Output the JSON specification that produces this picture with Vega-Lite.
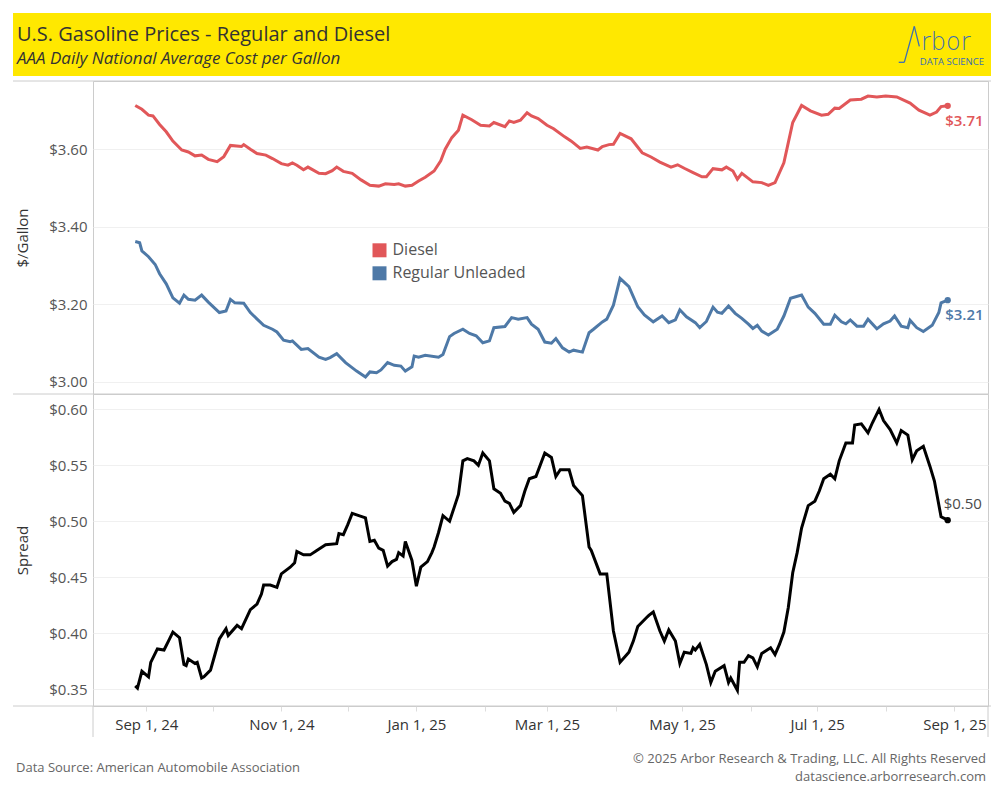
{
  "$schema": "https://vega.github.io/schema/vega-lite/v6.json",
  "background": "white",
  "padding": {"left": 12, "top": 12, "right": 10, "bottom": 10},
  "config": {
    "font": "Open Sans",
    "view": {"stroke": "#cccccc", "strokeWidth": 1},
    "axis": {"labelFont": "Open Sans", "titleFont": "Open Sans", "labelColor": "#555555", "titleColor": "#333333", "labelFontSize": 15, "titleFontSize": 15, "titleFontWeight": "normal", "domain": false, "gridColor": "#f0f0f0", "tickColor": "#dddddd"},
    "axisY": {"ticks": false, "labelPadding": 6, "titlePadding": 18}
  },
  "datasets": {
    "prices": [
      {"date":"2024-08-27","fuel":"Diesel","price":3.713},{"date":"2024-08-30","fuel":"Diesel","price":3.703},{"date":"2024-09-02","fuel":"Diesel","price":3.688},{"date":"2024-09-04","fuel":"Diesel","price":3.686},{"date":"2024-09-07","fuel":"Diesel","price":3.664},{"date":"2024-09-10","fuel":"Diesel","price":3.645},{"date":"2024-09-13","fuel":"Diesel","price":3.621},{"date":"2024-09-17","fuel":"Diesel","price":3.598},{"date":"2024-09-20","fuel":"Diesel","price":3.593},{"date":"2024-09-23","fuel":"Diesel","price":3.583},{"date":"2024-09-26","fuel":"Diesel","price":3.585},{"date":"2024-09-29","fuel":"Diesel","price":3.574},{"date":"2024-10-03","fuel":"Diesel","price":3.568},{"date":"2024-10-06","fuel":"Diesel","price":3.581},{"date":"2024-10-09","fuel":"Diesel","price":3.610},{"date":"2024-10-14","fuel":"Diesel","price":3.607},{"date":"2024-10-15","fuel":"Diesel","price":3.612},{"date":"2024-10-18","fuel":"Diesel","price":3.600},{"date":"2024-10-21","fuel":"Diesel","price":3.589},{"date":"2024-10-25","fuel":"Diesel","price":3.585},{"date":"2024-10-28","fuel":"Diesel","price":3.576},{"date":"2024-11-01","fuel":"Diesel","price":3.563},{"date":"2024-11-04","fuel":"Diesel","price":3.559},{"date":"2024-11-06","fuel":"Diesel","price":3.565},{"date":"2024-11-08","fuel":"Diesel","price":3.559},{"date":"2024-11-11","fuel":"Diesel","price":3.547},{"date":"2024-11-13","fuel":"Diesel","price":3.554},{"date":"2024-11-18","fuel":"Diesel","price":3.538},{"date":"2024-11-21","fuel":"Diesel","price":3.537},{"date":"2024-11-24","fuel":"Diesel","price":3.545},{"date":"2024-11-26","fuel":"Diesel","price":3.554},{"date":"2024-11-29","fuel":"Diesel","price":3.543},{"date":"2024-12-03","fuel":"Diesel","price":3.538},{"date":"2024-12-07","fuel":"Diesel","price":3.521},{"date":"2024-12-11","fuel":"Diesel","price":3.507},{"date":"2024-12-15","fuel":"Diesel","price":3.505},{"date":"2024-12-18","fuel":"Diesel","price":3.511},{"date":"2024-12-22","fuel":"Diesel","price":3.509},{"date":"2024-12-24","fuel":"Diesel","price":3.511},{"date":"2024-12-27","fuel":"Diesel","price":3.505},{"date":"2024-12-30","fuel":"Diesel","price":3.507},{"date":"2025-01-02","fuel":"Diesel","price":3.518},{"date":"2025-01-05","fuel":"Diesel","price":3.528},{"date":"2025-01-09","fuel":"Diesel","price":3.544},{"date":"2025-01-12","fuel":"Diesel","price":3.570},{"date":"2025-01-14","fuel":"Diesel","price":3.600},{"date":"2025-01-17","fuel":"Diesel","price":3.630},{"date":"2025-01-20","fuel":"Diesel","price":3.649},{"date":"2025-01-22","fuel":"Diesel","price":3.688},{"date":"2025-01-26","fuel":"Diesel","price":3.676},{"date":"2025-01-30","fuel":"Diesel","price":3.662},{"date":"2025-02-03","fuel":"Diesel","price":3.660},{"date":"2025-02-05","fuel":"Diesel","price":3.669},{"date":"2025-02-10","fuel":"Diesel","price":3.658},{"date":"2025-02-12","fuel":"Diesel","price":3.673},{"date":"2025-02-14","fuel":"Diesel","price":3.669},{"date":"2025-02-17","fuel":"Diesel","price":3.675},{"date":"2025-02-20","fuel":"Diesel","price":3.694},{"date":"2025-02-22","fuel":"Diesel","price":3.686},{"date":"2025-02-25","fuel":"Diesel","price":3.679},{"date":"2025-03-01","fuel":"Diesel","price":3.662},{"date":"2025-03-04","fuel":"Diesel","price":3.653},{"date":"2025-03-09","fuel":"Diesel","price":3.632},{"date":"2025-03-12","fuel":"Diesel","price":3.621},{"date":"2025-03-16","fuel":"Diesel","price":3.602},{"date":"2025-03-19","fuel":"Diesel","price":3.606},{"date":"2025-03-24","fuel":"Diesel","price":3.598},{"date":"2025-03-26","fuel":"Diesel","price":3.607},{"date":"2025-03-29","fuel":"Diesel","price":3.612},{"date":"2025-03-31","fuel":"Diesel","price":3.613},{"date":"2025-04-03","fuel":"Diesel","price":3.641},{"date":"2025-04-08","fuel":"Diesel","price":3.627},{"date":"2025-04-13","fuel":"Diesel","price":3.591},{"date":"2025-04-17","fuel":"Diesel","price":3.580},{"date":"2025-04-21","fuel":"Diesel","price":3.567},{"date":"2025-04-26","fuel":"Diesel","price":3.554},{"date":"2025-04-29","fuel":"Diesel","price":3.560},{"date":"2025-05-02","fuel":"Diesel","price":3.551},{"date":"2025-05-06","fuel":"Diesel","price":3.540},{"date":"2025-05-10","fuel":"Diesel","price":3.529},{"date":"2025-05-12","fuel":"Diesel","price":3.529},{"date":"2025-05-15","fuel":"Diesel","price":3.550},{"date":"2025-05-19","fuel":"Diesel","price":3.547},{"date":"2025-05-21","fuel":"Diesel","price":3.554},{"date":"2025-05-24","fuel":"Diesel","price":3.544},{"date":"2025-05-26","fuel":"Diesel","price":3.523},{"date":"2025-05-28","fuel":"Diesel","price":3.538},{"date":"2025-06-02","fuel":"Diesel","price":3.516},{"date":"2025-06-06","fuel":"Diesel","price":3.514},{"date":"2025-06-09","fuel":"Diesel","price":3.507},{"date":"2025-06-12","fuel":"Diesel","price":3.514},{"date":"2025-06-16","fuel":"Diesel","price":3.565},{"date":"2025-06-18","fuel":"Diesel","price":3.617},{"date":"2025-06-20","fuel":"Diesel","price":3.669},{"date":"2025-06-24","fuel":"Diesel","price":3.713},{"date":"2025-06-28","fuel":"Diesel","price":3.699},{"date":"2025-07-03","fuel":"Diesel","price":3.688},{"date":"2025-07-06","fuel":"Diesel","price":3.690},{"date":"2025-07-09","fuel":"Diesel","price":3.706},{"date":"2025-07-11","fuel":"Diesel","price":3.705},{"date":"2025-07-16","fuel":"Diesel","price":3.727},{"date":"2025-07-21","fuel":"Diesel","price":3.729},{"date":"2025-07-24","fuel":"Diesel","price":3.737},{"date":"2025-07-28","fuel":"Diesel","price":3.735},{"date":"2025-08-01","fuel":"Diesel","price":3.737},{"date":"2025-08-06","fuel":"Diesel","price":3.735},{"date":"2025-08-12","fuel":"Diesel","price":3.719},{"date":"2025-08-16","fuel":"Diesel","price":3.701},{"date":"2025-08-21","fuel":"Diesel","price":3.688},{"date":"2025-08-24","fuel":"Diesel","price":3.696},{"date":"2025-08-26","fuel":"Diesel","price":3.710},{"date":"2025-08-29","fuel":"Diesel","price":3.712},
      {"date":"2024-08-27","fuel":"Regular Unleaded","price":3.362},{"date":"2024-08-29","fuel":"Regular Unleaded","price":3.359},{"date":"2024-08-30","fuel":"Regular Unleaded","price":3.338},{"date":"2024-09-02","fuel":"Regular Unleaded","price":3.323},{"date":"2024-09-05","fuel":"Regular Unleaded","price":3.303},{"date":"2024-09-07","fuel":"Regular Unleaded","price":3.279},{"date":"2024-09-10","fuel":"Regular Unleaded","price":3.253},{"date":"2024-09-13","fuel":"Regular Unleaded","price":3.217},{"date":"2024-09-16","fuel":"Regular Unleaded","price":3.203},{"date":"2024-09-18","fuel":"Regular Unleaded","price":3.224},{"date":"2024-09-20","fuel":"Regular Unleaded","price":3.213},{"date":"2024-09-23","fuel":"Regular Unleaded","price":3.211},{"date":"2024-09-26","fuel":"Regular Unleaded","price":3.224},{"date":"2024-09-29","fuel":"Regular Unleaded","price":3.206},{"date":"2024-10-04","fuel":"Regular Unleaded","price":3.179},{"date":"2024-10-07","fuel":"Regular Unleaded","price":3.183},{"date":"2024-10-09","fuel":"Regular Unleaded","price":3.213},{"date":"2024-10-11","fuel":"Regular Unleaded","price":3.204},{"date":"2024-10-15","fuel":"Regular Unleaded","price":3.203},{"date":"2024-10-18","fuel":"Regular Unleaded","price":3.179},{"date":"2024-10-24","fuel":"Regular Unleaded","price":3.146},{"date":"2024-10-28","fuel":"Regular Unleaded","price":3.136},{"date":"2024-10-30","fuel":"Regular Unleaded","price":3.129},{"date":"2024-11-02","fuel":"Regular Unleaded","price":3.108},{"date":"2024-11-05","fuel":"Regular Unleaded","price":3.104},{"date":"2024-11-06","fuel":"Regular Unleaded","price":3.106},{"date":"2024-11-10","fuel":"Regular Unleaded","price":3.084},{"date":"2024-11-13","fuel":"Regular Unleaded","price":3.086},{"date":"2024-11-18","fuel":"Regular Unleaded","price":3.064},{"date":"2024-11-21","fuel":"Regular Unleaded","price":3.058},{"date":"2024-11-23","fuel":"Regular Unleaded","price":3.063},{"date":"2024-11-26","fuel":"Regular Unleaded","price":3.073},{"date":"2024-11-30","fuel":"Regular Unleaded","price":3.050},{"date":"2024-12-05","fuel":"Regular Unleaded","price":3.028},{"date":"2024-12-09","fuel":"Regular Unleaded","price":3.013},{"date":"2024-12-11","fuel":"Regular Unleaded","price":3.026},{"date":"2024-12-14","fuel":"Regular Unleaded","price":3.024},{"date":"2024-12-16","fuel":"Regular Unleaded","price":3.031},{"date":"2024-12-19","fuel":"Regular Unleaded","price":3.050},{"date":"2024-12-22","fuel":"Regular Unleaded","price":3.043},{"date":"2024-12-25","fuel":"Regular Unleaded","price":3.041},{"date":"2024-12-27","fuel":"Regular Unleaded","price":3.028},{"date":"2024-12-30","fuel":"Regular Unleaded","price":3.039},{"date":"2024-12-31","fuel":"Regular Unleaded","price":3.067},{"date":"2025-01-02","fuel":"Regular Unleaded","price":3.064},{"date":"2025-01-05","fuel":"Regular Unleaded","price":3.069},{"date":"2025-01-11","fuel":"Regular Unleaded","price":3.064},{"date":"2025-01-13","fuel":"Regular Unleaded","price":3.071},{"date":"2025-01-16","fuel":"Regular Unleaded","price":3.117},{"date":"2025-01-18","fuel":"Regular Unleaded","price":3.125},{"date":"2025-01-22","fuel":"Regular Unleaded","price":3.136},{"date":"2025-01-25","fuel":"Regular Unleaded","price":3.125},{"date":"2025-01-28","fuel":"Regular Unleaded","price":3.119},{"date":"2025-01-31","fuel":"Regular Unleaded","price":3.101},{"date":"2025-02-03","fuel":"Regular Unleaded","price":3.106},{"date":"2025-02-05","fuel":"Regular Unleaded","price":3.140},{"date":"2025-02-10","fuel":"Regular Unleaded","price":3.143},{"date":"2025-02-13","fuel":"Regular Unleaded","price":3.166},{"date":"2025-02-16","fuel":"Regular Unleaded","price":3.162},{"date":"2025-02-20","fuel":"Regular Unleaded","price":3.166},{"date":"2025-02-22","fuel":"Regular Unleaded","price":3.149},{"date":"2025-02-25","fuel":"Regular Unleaded","price":3.136},{"date":"2025-02-28","fuel":"Regular Unleaded","price":3.103},{"date":"2025-03-03","fuel":"Regular Unleaded","price":3.100},{"date":"2025-03-05","fuel":"Regular Unleaded","price":3.112},{"date":"2025-03-08","fuel":"Regular Unleaded","price":3.088},{"date":"2025-03-11","fuel":"Regular Unleaded","price":3.077},{"date":"2025-03-13","fuel":"Regular Unleaded","price":3.082},{"date":"2025-03-17","fuel":"Regular Unleaded","price":3.077},{"date":"2025-03-20","fuel":"Regular Unleaded","price":3.127},{"date":"2025-03-22","fuel":"Regular Unleaded","price":3.136},{"date":"2025-03-26","fuel":"Regular Unleaded","price":3.155},{"date":"2025-03-28","fuel":"Regular Unleaded","price":3.162},{"date":"2025-03-31","fuel":"Regular Unleaded","price":3.198},{"date":"2025-04-03","fuel":"Regular Unleaded","price":3.267},{"date":"2025-04-07","fuel":"Regular Unleaded","price":3.246},{"date":"2025-04-11","fuel":"Regular Unleaded","price":3.194},{"date":"2025-04-14","fuel":"Regular Unleaded","price":3.173},{"date":"2025-04-18","fuel":"Regular Unleaded","price":3.155},{"date":"2025-04-22","fuel":"Regular Unleaded","price":3.170},{"date":"2025-04-25","fuel":"Regular Unleaded","price":3.153},{"date":"2025-04-28","fuel":"Regular Unleaded","price":3.160},{"date":"2025-04-30","fuel":"Regular Unleaded","price":3.186},{"date":"2025-05-03","fuel":"Regular Unleaded","price":3.168},{"date":"2025-05-07","fuel":"Regular Unleaded","price":3.153},{"date":"2025-05-09","fuel":"Regular Unleaded","price":3.140},{"date":"2025-05-12","fuel":"Regular Unleaded","price":3.156},{"date":"2025-05-15","fuel":"Regular Unleaded","price":3.193},{"date":"2025-05-17","fuel":"Regular Unleaded","price":3.180},{"date":"2025-05-19","fuel":"Regular Unleaded","price":3.177},{"date":"2025-05-22","fuel":"Regular Unleaded","price":3.196},{"date":"2025-05-25","fuel":"Regular Unleaded","price":3.177},{"date":"2025-05-28","fuel":"Regular Unleaded","price":3.164},{"date":"2025-05-31","fuel":"Regular Unleaded","price":3.149},{"date":"2025-06-02","fuel":"Regular Unleaded","price":3.138},{"date":"2025-06-04","fuel":"Regular Unleaded","price":3.146},{"date":"2025-06-06","fuel":"Regular Unleaded","price":3.131},{"date":"2025-06-09","fuel":"Regular Unleaded","price":3.121},{"date":"2025-06-13","fuel":"Regular Unleaded","price":3.136},{"date":"2025-06-16","fuel":"Regular Unleaded","price":3.170},{"date":"2025-06-19","fuel":"Regular Unleaded","price":3.216},{"date":"2025-06-24","fuel":"Regular Unleaded","price":3.224},{"date":"2025-06-27","fuel":"Regular Unleaded","price":3.193},{"date":"2025-06-30","fuel":"Regular Unleaded","price":3.177},{"date":"2025-07-04","fuel":"Regular Unleaded","price":3.149},{"date":"2025-07-07","fuel":"Regular Unleaded","price":3.149},{"date":"2025-07-09","fuel":"Regular Unleaded","price":3.172},{"date":"2025-07-12","fuel":"Regular Unleaded","price":3.155},{"date":"2025-07-14","fuel":"Regular Unleaded","price":3.150},{"date":"2025-07-16","fuel":"Regular Unleaded","price":3.160},{"date":"2025-07-19","fuel":"Regular Unleaded","price":3.144},{"date":"2025-07-22","fuel":"Regular Unleaded","price":3.144},{"date":"2025-07-24","fuel":"Regular Unleaded","price":3.162},{"date":"2025-07-28","fuel":"Regular Unleaded","price":3.137},{"date":"2025-07-31","fuel":"Regular Unleaded","price":3.150},{"date":"2025-08-03","fuel":"Regular Unleaded","price":3.157},{"date":"2025-08-05","fuel":"Regular Unleaded","price":3.170},{"date":"2025-08-08","fuel":"Regular Unleaded","price":3.144},{"date":"2025-08-11","fuel":"Regular Unleaded","price":3.140},{"date":"2025-08-12","fuel":"Regular Unleaded","price":3.159},{"date":"2025-08-15","fuel":"Regular Unleaded","price":3.140},{"date":"2025-08-18","fuel":"Regular Unleaded","price":3.130},{"date":"2025-08-22","fuel":"Regular Unleaded","price":3.146},{"date":"2025-08-25","fuel":"Regular Unleaded","price":3.179},{"date":"2025-08-26","fuel":"Regular Unleaded","price":3.204},{"date":"2025-08-29","fuel":"Regular Unleaded","price":3.211}
    ],
    "spread": [
      {"date":"2024-08-27","spread":0.353},{"date":"2024-08-28","spread":0.351},{"date":"2024-08-30","spread":0.366},{"date":"2024-09-02","spread":0.361},{"date":"2024-09-03","spread":0.374},{"date":"2024-09-06","spread":0.386},{"date":"2024-09-09","spread":0.385},{"date":"2024-09-11","spread":0.393},{"date":"2024-09-13","spread":0.401},{"date":"2024-09-16","spread":0.396},{"date":"2024-09-18","spread":0.372},{"date":"2024-09-19","spread":0.371},{"date":"2024-09-20","spread":0.377},{"date":"2024-09-23","spread":0.373},{"date":"2024-09-24","spread":0.374},{"date":"2024-09-26","spread":0.360},{"date":"2024-09-27","spread":0.361},{"date":"2024-09-30","spread":0.367},{"date":"2024-10-02","spread":0.381},{"date":"2024-10-04","spread":0.395},{"date":"2024-10-07","spread":0.404},{"date":"2024-10-08","spread":0.398},{"date":"2024-10-12","spread":0.407},{"date":"2024-10-14","spread":0.404},{"date":"2024-10-18","spread":0.421},{"date":"2024-10-21","spread":0.426},{"date":"2024-10-23","spread":0.435},{"date":"2024-10-24","spread":0.443},{"date":"2024-10-27","spread":0.443},{"date":"2024-10-30","spread":0.441},{"date":"2024-11-01","spread":0.453},{"date":"2024-11-05","spread":0.459},{"date":"2024-11-07","spread":0.463},{"date":"2024-11-08","spread":0.473},{"date":"2024-11-11","spread":0.470},{"date":"2024-11-14","spread":0.470},{"date":"2024-11-17","spread":0.474},{"date":"2024-11-21","spread":0.479},{"date":"2024-11-26","spread":0.480},{"date":"2024-11-27","spread":0.489},{"date":"2024-11-29","spread":0.488},{"date":"2024-12-01","spread":0.497},{"date":"2024-12-03","spread":0.507},{"date":"2024-12-06","spread":0.505},{"date":"2024-12-09","spread":0.503},{"date":"2024-12-11","spread":0.482},{"date":"2024-12-13","spread":0.483},{"date":"2024-12-15","spread":0.476},{"date":"2024-12-17","spread":0.474},{"date":"2024-12-19","spread":0.460},{"date":"2024-12-21","spread":0.464},{"date":"2024-12-23","spread":0.466},{"date":"2024-12-24","spread":0.472},{"date":"2024-12-26","spread":0.469},{"date":"2024-12-27","spread":0.482},{"date":"2024-12-30","spread":0.465},{"date":"2025-01-01","spread":0.442},{"date":"2025-01-03","spread":0.459},{"date":"2025-01-06","spread":0.464},{"date":"2025-01-08","spread":0.472},{"date":"2025-01-09","spread":0.477},{"date":"2025-01-11","spread":0.490},{"date":"2025-01-13","spread":0.505},{"date":"2025-01-16","spread":0.500},{"date":"2025-01-18","spread":0.512},{"date":"2025-01-20","spread":0.524},{"date":"2025-01-22","spread":0.554},{"date":"2025-01-24","spread":0.556},{"date":"2025-01-27","spread":0.554},{"date":"2025-01-29","spread":0.550},{"date":"2025-01-31","spread":0.561},{"date":"2025-02-03","spread":0.554},{"date":"2025-02-05","spread":0.529},{"date":"2025-02-08","spread":0.525},{"date":"2025-02-10","spread":0.518},{"date":"2025-02-12","spread":0.516},{"date":"2025-02-14","spread":0.508},{"date":"2025-02-17","spread":0.514},{"date":"2025-02-19","spread":0.527},{"date":"2025-02-21","spread":0.538},{"date":"2025-02-24","spread":0.540},{"date":"2025-02-28","spread":0.561},{"date":"2025-03-03","spread":0.557},{"date":"2025-03-05","spread":0.540},{"date":"2025-03-07","spread":0.546},{"date":"2025-03-11","spread":0.546},{"date":"2025-03-13","spread":0.532},{"date":"2025-03-17","spread":0.523},{"date":"2025-03-20","spread":0.477},{"date":"2025-03-21","spread":0.474},{"date":"2025-03-25","spread":0.453},{"date":"2025-03-28","spread":0.453},{"date":"2025-03-31","spread":0.402},{"date":"2025-04-03","spread":0.374},{"date":"2025-04-07","spread":0.383},{"date":"2025-04-09","spread":0.393},{"date":"2025-04-11","spread":0.406},{"date":"2025-04-15","spread":0.414},{"date":"2025-04-16","spread":0.416},{"date":"2025-04-18","spread":0.419},{"date":"2025-04-21","spread":0.402},{"date":"2025-04-23","spread":0.393},{"date":"2025-04-25","spread":0.403},{"date":"2025-04-28","spread":0.393},{"date":"2025-04-30","spread":0.373},{"date":"2025-05-02","spread":0.383},{"date":"2025-05-05","spread":0.382},{"date":"2025-05-06","spread":0.387},{"date":"2025-05-07","spread":0.385},{"date":"2025-05-09","spread":0.390},{"date":"2025-05-12","spread":0.372},{"date":"2025-05-14","spread":0.356},{"date":"2025-05-16","spread":0.366},{"date":"2025-05-20","spread":0.371},{"date":"2025-05-22","spread":0.356},{"date":"2025-05-23","spread":0.360},{"date":"2025-05-26","spread":0.349},{"date":"2025-05-27","spread":0.374},{"date":"2025-05-29","spread":0.374},{"date":"2025-05-31","spread":0.380},{"date":"2025-06-02","spread":0.378},{"date":"2025-06-04","spread":0.370},{"date":"2025-06-06","spread":0.382},{"date":"2025-06-10","spread":0.387},{"date":"2025-06-12","spread":0.381},{"date":"2025-06-14","spread":0.390},{"date":"2025-06-16","spread":0.401},{"date":"2025-06-18","spread":0.423},{"date":"2025-06-20","spread":0.454},{"date":"2025-06-22","spread":0.472},{"date":"2025-06-24","spread":0.494},{"date":"2025-06-27","spread":0.514},{"date":"2025-06-30","spread":0.518},{"date":"2025-07-02","spread":0.527},{"date":"2025-07-04","spread":0.538},{"date":"2025-07-07","spread":0.542},{"date":"2025-07-09","spread":0.538},{"date":"2025-07-11","spread":0.554},{"date":"2025-07-14","spread":0.570},{"date":"2025-07-17","spread":0.570},{"date":"2025-07-18","spread":0.586},{"date":"2025-07-21","spread":0.587},{"date":"2025-07-24","spread":0.579},{"date":"2025-07-26","spread":0.588},{"date":"2025-07-29","spread":0.600},{"date":"2025-07-31","spread":0.590},{"date":"2025-08-03","spread":0.582},{"date":"2025-08-06","spread":0.570},{"date":"2025-08-08","spread":0.581},{"date":"2025-08-11","spread":0.577},{"date":"2025-08-13","spread":0.555},{"date":"2025-08-15","spread":0.563},{"date":"2025-08-18","spread":0.567},{"date":"2025-08-21","spread":0.549},{"date":"2025-08-23","spread":0.536},{"date":"2025-08-26","spread":0.504},{"date":"2025-08-27","spread":0.503},{"date":"2025-08-29","spread":0.501}
    ]
  },
  "bounds": "flush",
  "spacing": 0,
  "vconcat": [
    {
      "width": 895,
      "height": 313,
      "layer": [
        {"data": {"values": [{}]}, "mark": {"type": "rect", "fill": "#FFE800"}, "encoding": {"x": {"value": -80}, "x2": {"value": 898}, "y": {"value": -68}, "y2": {"value": -5}}},
        {"data": {"values": [{}]}, "mark": {"type": "text", "text": "U.S. Gasoline Prices -  Regular and Diesel", "align": "left", "baseline": "alphabetic", "fontSize": 20, "color": "#333333"}, "encoding": {"x": {"value": -76}, "y": {"value": -40}}},
        {"data": {"values": [{}]}, "mark": {"type": "text", "text": "AAA Daily National Average Cost per Gallon", "align": "left", "baseline": "alphabetic", "fontSize": 17, "fontStyle": "italic", "color": "#333333"}, "encoding": {"x": {"value": -76}, "y": {"value": -17.5}}},
        {"data": {"values": [{}]}, "mark": {"type": "text", "text": "rbor", "align": "left", "baseline": "alphabetic", "font": "DejaVu Sans", "fontSize": 24, "fontWeight": 200, "color": "#3b6db3"}, "encoding": {"x": {"value": 828}, "y": {"value": -31}}},
        {"data": {"values": [{}]}, "mark": {"type": "text", "text": "DATA SCIENCE", "align": "right", "baseline": "alphabetic", "fontSize": 9.5, "color": "#3b6db3"}, "encoding": {"x": {"value": 891}, "y": {"value": -16.5}}},
        {"data": {"values": [{}]}, "mark": {"type": "rule", "color": "#3b6db3", "strokeWidth": 1.3}, "encoding": {"x": {"value": 805.7}, "x2": {"value": 811.3}, "y": {"value": -18.7}, "y2": {"value": -18.7}}},
        {"data": {"values": [{}]}, "mark": {"type": "rule", "color": "#3b6db3", "strokeWidth": 1.3}, "encoding": {"x": {"value": 811.3}, "x2": {"value": 821.3}, "y": {"value": -18.7}, "y2": {"value": -54.7}}},
        {"data": {"values": [{}]}, "mark": {"type": "rule", "color": "#3b6db3", "strokeWidth": 1.3}, "encoding": {"x": {"value": 821.3}, "x2": {"value": 826.3}, "y": {"value": -54.7}, "y2": {"value": -34.7}}},
        {"data": {"values": [{}]}, "mark": {"type": "rule", "color": "#cccccc", "strokeWidth": 1}, "encoding": {"x": {"value": -80}, "x2": {"value": 898}, "y": {"value": 0}}},
        {"data": {"values": [{}]}, "mark": {"type": "rule", "color": "#cccccc", "strokeWidth": 1}, "encoding": {"x": {"value": -80}, "x2": {"value": 895}, "y": {"value": 313}}},
        {
          "data": {"name": "prices"},
          "mark": {"type": "line", "strokeWidth": 3, "interpolate": "linear"},
          "encoding": {
            "x": {"field": "date", "type": "temporal", "scale": {"type": "utc", "domain": [{"year": 2024, "month": 8, "date": 7, "hours": 22, "utc": true}, {"year": 2025, "month": 9, "date": 16, "hours": 5, "utc": true}]}, "axis": null},
            "y": {"field": "price", "type": "quantitative", "scale": {"domain": [2.969, 3.776], "zero": false, "nice": false}, "axis": {"values": [3.0, 3.2, 3.4, 3.6], "format": "$.2f", "title": "$/Gallon", "grid": true}},
            "detail": {"field": "fuel", "type": "nominal"},
            "color": {"condition": {"test": "datum.fuel == 'Diesel'", "value": "#e15759"}, "value": "#4e79a7"}
          }
        },
        {
          "data": {"name": "prices"},
          "transform": [{"filter": {"field": "date", "equal": {"year": 2025, "month": 8, "date": 29, "utc": true}}}],
          "mark": {"type": "point", "filled": true, "size": 40, "opacity": 1},
          "encoding": {
            "x": {"field": "date", "type": "temporal"},
            "y": {"field": "price", "type": "quantitative"},
            "color": {"field": "fuel", "type": "nominal", "scale": {"domain": ["Diesel", "Regular Unleaded"], "range": ["#e15759", "#4e79a7"]}, "legend": {"orient": "none", "legendX": 278.5, "legendY": 161.3, "title": null, "symbolType": "square", "symbolSize": 196, "symbolStrokeWidth": 0, "symbolOpacity": 1, "labelFont": "Open Sans", "labelFontSize": 16, "labelColor": "#555555", "labelOffset": 5, "rowPadding": 7, "padding": 0}}
          }
        },
        {
          "data": {"name": "prices"},
          "transform": [{"filter": {"field": "date", "equal": {"year": 2025, "month": 8, "date": 29, "utc": true}}}],
          "mark": {"type": "text", "align": "left", "baseline": "middle", "dx": -2.5, "dy": 15, "fontSize": 15, "fontWeight": 600},
          "encoding": {
            "x": {"field": "date", "type": "temporal"},
            "y": {"field": "price", "type": "quantitative"},
            "text": {"field": "price", "type": "quantitative", "format": "$.2f"},
            "color": {"condition": {"test": "datum.fuel == 'Diesel'", "value": "#e15759"}, "value": "#4e79a7"}
          }
        }
      ]
    },
    {
      "width": 895,
      "height": 312,
      "layer": [
        {"data": {"values": [{}]}, "mark": {"type": "rule", "color": "#cccccc", "strokeWidth": 1}, "encoding": {"x": {"value": -80}, "x2": {"value": 898}, "y": {"value": 312}}},
        {"data": {"values": [{}]}, "mark": {"type": "rule", "color": "#cccccc", "strokeWidth": 1}, "encoding": {"x": {"value": 0}, "y": {"value": 312}, "y2": {"value": 343}}},
        {"data": {"values": [{}]}, "mark": {"type": "rule", "color": "#cccccc", "strokeWidth": 1}, "encoding": {"x": {"value": 895}, "y": {"value": 312}, "y2": {"value": 343}}},
        {"data": {"values": [{}]}, "mark": {"type": "text", "text": "Data Source: American Automobile Association", "align": "left", "baseline": "middle", "fontSize": 13, "color": "#666666"}, "encoding": {"x": {"value": -77}, "y": {"value": 373.7}}},
        {"data": {"values": [{}]}, "mark": {"type": "text", "text": "© 2025 Arbor Research & Trading, LLC. All Rights Reserved", "align": "right", "baseline": "middle", "fontSize": 13, "color": "#666666"}, "encoding": {"x": {"value": 893}, "y": {"value": 364.7}}},
        {"data": {"values": [{}]}, "mark": {"type": "text", "text": "datascience.arborresearch.com", "align": "right", "baseline": "middle", "fontSize": 13, "color": "#666666"}, "encoding": {"x": {"value": 893}, "y": {"value": 383}}},
        {
          "data": {"name": "spread"},
          "mark": {"type": "line", "strokeWidth": 3, "color": "#000000", "interpolate": "linear"},
          "encoding": {
            "x": {"field": "date", "type": "temporal", "scale": {"type": "utc", "domain": [{"year": 2024, "month": 8, "date": 7, "hours": 22, "utc": true}, {"year": 2025, "month": 9, "date": 16, "hours": 5, "utc": true}]}, "axis": {"values": [{"year":2024,"month":9,"date":1,"utc":true},{"year":2024,"month":10,"date":1,"utc":true},{"year":2024,"month":11,"date":1,"utc":true},{"year":2024,"month":12,"date":1,"utc":true},{"year":2025,"month":1,"date":1,"utc":true},{"year":2025,"month":2,"date":1,"utc":true},{"year":2025,"month":3,"date":1,"utc":true},{"year":2025,"month":4,"date":1,"utc":true},{"year":2025,"month":5,"date":1,"utc":true},{"year":2025,"month":6,"date":1,"utc":true},{"year":2025,"month":7,"date":1,"utc":true},{"year":2025,"month":8,"date":1,"utc":true},{"year":2025,"month":9,"date":1,"utc":true}], "labelExpr": "utcmonth(datum.value) % 2 == 0 ? utcFormat(datum.value, '%b %-d, %y') : ''", "title": null, "grid": false, "ticks": true, "tickSize": 5, "tickColor": "#dddddd", "labelPadding": 6, "labelFontSize": 15, "labelColor": "#333333", "labelFlush": false, "labelOverlap": false}},
            "y": {"field": "spread", "type": "quantitative", "scale": {"domain": [0.335, 0.6137], "zero": false, "nice": false}, "axis": {"values": [0.35, 0.4, 0.45, 0.5, 0.55, 0.6], "format": "$.2f", "title": "Spread", "grid": true}}
          }
        },
        {
          "data": {"name": "spread"},
          "transform": [{"filter": {"field": "date", "equal": {"year": 2025, "month": 8, "date": 29, "utc": true}}}],
          "mark": {"type": "point", "filled": true, "size": 40, "opacity": 1, "color": "#000000"},
          "encoding": {"x": {"field": "date", "type": "temporal"}, "y": {"field": "spread", "type": "quantitative"}}
        },
        {
          "data": {"name": "spread"},
          "transform": [{"filter": {"field": "date", "equal": {"year": 2025, "month": 8, "date": 29, "utc": true}}}],
          "mark": {"type": "text", "align": "left", "baseline": "middle", "dx": -4, "dy": -16.5, "fontSize": 15, "color": "#4a4a4a"},
          "encoding": {"x": {"field": "date", "type": "temporal"}, "y": {"field": "spread", "type": "quantitative"}, "text": {"field": "spread", "type": "quantitative", "format": "$.2f"}}
        }
      ]
    }
  ]
}
